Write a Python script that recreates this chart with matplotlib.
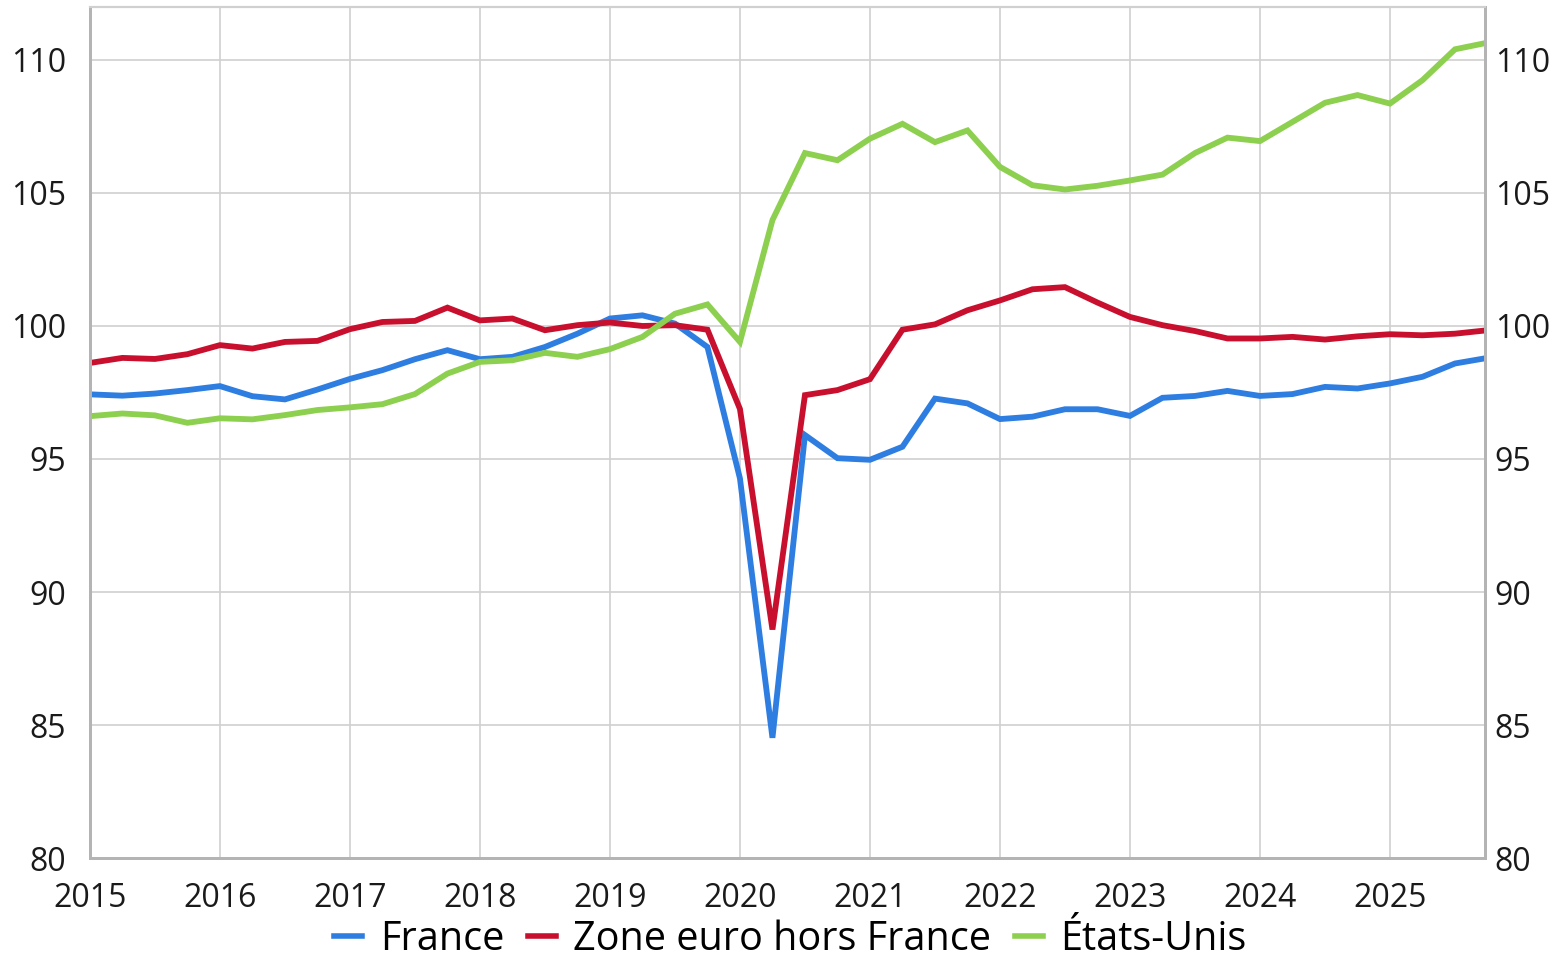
import numpy as np
import matplotlib.pyplot as plt

plt.rcParams['font.family'] = ['Open Sans', 'DejaVu Sans']

# quarterly index, 2015Q1 .. 2025Q4
quarters = 2015 + 0.25 * np.arange(44)

france = [97.43, 97.38, 97.46, 97.59, 97.74, 97.36, 97.24, 97.61,
          98.01, 98.34, 98.75, 99.09, 98.75, 98.84, 99.21, 99.71,
          100.28, 100.40, 100.09, 99.21, 94.27, 84.52, 95.90, 95.03,
          94.97, 95.46, 97.27, 97.09, 96.50, 96.59, 96.87, 96.87,
          96.62, 97.30, 97.37, 97.56, 97.37, 97.44, 97.71, 97.65,
          97.84, 98.09, 98.59, 98.80]

zone_euro = [98.61, 98.80, 98.76, 98.94, 99.28, 99.15, 99.40, 99.44,
             99.88, 100.15, 100.19, 100.69, 100.21, 100.28, 99.84, 100.03,
             100.13, 100.00, 100.03, 99.86, 96.88, 88.59, 97.40, 97.59,
             98.00, 99.86, 100.06, 100.59, 100.96, 101.38, 101.46, 100.88,
             100.34, 100.03, 99.81, 99.53, 99.53, 99.59, 99.49, 99.61,
             99.69, 99.65, 99.71, 99.84]

etats_unis = [96.61, 96.71, 96.64, 96.36, 96.53, 96.49, 96.65, 96.84,
              96.94, 97.06, 97.44, 98.21, 98.65, 98.71, 98.99, 98.84,
              99.13, 99.59, 100.46, 100.81, 99.40, 103.98, 106.50, 106.23,
              107.04, 107.60, 106.91, 107.35, 105.98, 105.29, 105.13, 105.27,
              105.47, 105.69, 106.50, 107.08, 106.95, 107.67, 108.39, 108.68,
              108.36, 109.24, 110.40, 110.65]

labels = ['France', 'Zone euro hors France', 'États-Unis']
colors = ['#2e7de1', '#c8102e', '#8dcf4f']
years = list(range(2015, 2026))
yticks = [80, 85, 90, 95, 100, 105, 110]


def main():
    fig = plt.figure(figsize=(15.5, 9.63), dpi=100)
    ax = fig.add_axes([0.058, 0.109, 0.9, 0.884])

    for series, lab, col in zip([france, zone_euro, etats_unis], labels, colors):
        ax.plot(quarters, series, color=col, lw=4.2, label=lab,
                solid_joinstyle='miter')

    ax.set_xlim(2015, 2025.73)
    ax.set_ylim(80, 112)
    ax.set_xticks(years)
    ax.set_yticks(yticks)
    ax.grid(True, color='#d0d0d0', lw=1.2)
    ax.set_axisbelow(True)

    # mirrored value axis on the right
    ax2 = ax.twinx()
    ax2.set_ylim(ax.get_ylim())
    ax2.set_yticks(yticks)

    for a in (ax, ax2):
        for side in ['left', 'bottom', 'right']:
            a.spines[side].set_color('#b4b4b4')
            a.spines[side].set_linewidth(2)
        a.spines['top'].set_color('#d0d0d0')
        a.spines['top'].set_linewidth(1.5)
        a.tick_params(axis='both', length=0, labelsize=23, colors='#1a1a1a')

    ax.tick_params(axis='x', pad=17)
    ax.tick_params(axis='y', pad=17)
    ax2.tick_params(axis='y', pad=7)

    leg = fig.legend(loc='lower center', bbox_to_anchor=(0.510, -0.034), ncol=3,
                     frameon=False, fontsize=28.5, handlelength=0.7,
                     handletextpad=0.45, columnspacing=0.6)
    for h in leg.legend_handles:
        h.set_linewidth(4)

    fig.savefig('out.png', dpi=100)


if __name__ == '__main__':
    main()
